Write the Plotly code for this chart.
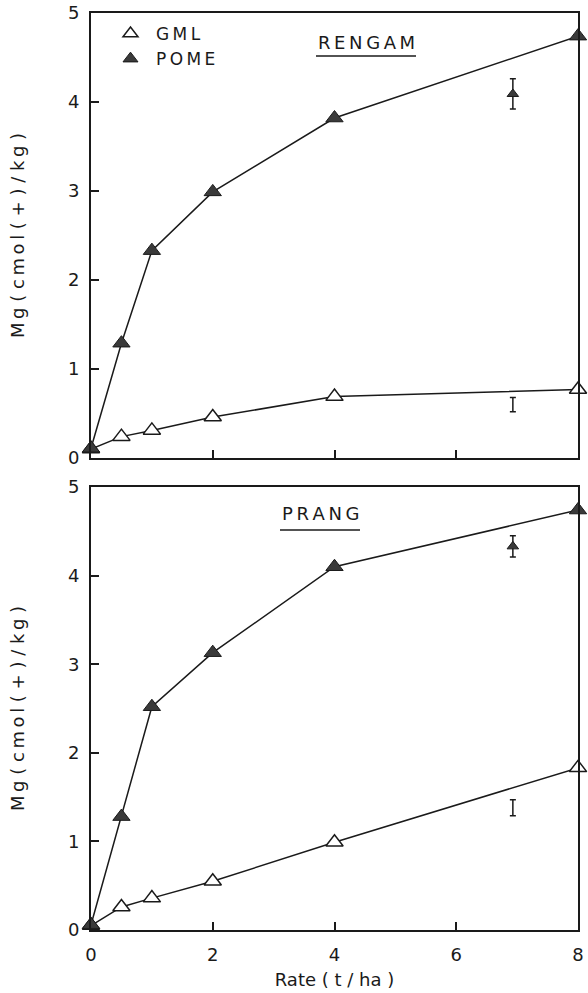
import plotly.graph_objects as go

rates = [0, 0.5, 1, 2, 4, 8]
rengam_gml = [0.10, 0.24, 0.31, 0.46, 0.69, 0.77]
rengam_pome = [0.11, 1.29, 2.33, 2.99, 3.82, 4.74]
prang_gml = [0.05, 0.26, 0.36, 0.55, 0.99, 1.83]
prang_pome = [0.06, 1.28, 2.52, 3.13, 4.10, 4.74]

# LSD error bars (x position, centre, half-width)
err_x = [6.93]
rengam_pome_err = [4.09]
rengam_pome_errh = [0.17]
rengam_gml_err = [0.60]
rengam_gml_errh = [0.08]
prang_pome_err = [4.33]
prang_pome_errh = [0.12]
prang_gml_err = [1.38]
prang_gml_errh = [0.09]

x_ticks = [0, 2, 4, 6, 8]
y_ticks = [0, 1, 2, 3, 4, 5]

FONT = "DejaVu Sans"
BLACK = "#1a1a1a"
FILL = "#3a3a3a"
TS = "\u2009"  # thin space for letter spacing

def spaced(word):
    return TS.join(word)

fig = go.Figure()

def add_panel(xa, ya, gml, pome, pe, peh, ge, geh):
    fig.add_trace(go.Scatter(x=rates, y=gml, mode="lines+markers", xaxis=xa, yaxis=ya,
                             line=dict(color=BLACK, width=1.5),
                             marker=dict(symbol="triangle-up", size=15, color="white",
                                         line=dict(color=BLACK, width=1.5)),
                             showlegend=False, cliponaxis=False))
    fig.add_trace(go.Scatter(x=rates, y=pome, mode="lines+markers", xaxis=xa, yaxis=ya,
                             line=dict(color=BLACK, width=1.5),
                             marker=dict(symbol="triangle-up", size=15, color=FILL,
                                         line=dict(color=BLACK, width=1)),
                             showlegend=False, cliponaxis=False))
    fig.add_trace(go.Scatter(x=err_x, y=pe, mode="markers", xaxis=xa, yaxis=ya,
                             marker=dict(symbol="triangle-up", size=10, color=FILL,
                                         line=dict(color=BLACK, width=1)),
                             error_y=dict(type="data", array=peh, color=BLACK,
                                          thickness=1.5, width=3),
                             showlegend=False))
    fig.add_trace(go.Scatter(x=err_x, y=ge, mode="markers", xaxis=xa, yaxis=ya,
                             marker=dict(size=1, color="rgba(0,0,0,0)"),
                             error_y=dict(type="data", array=geh, color=BLACK,
                                          thickness=1.5, width=3),
                             showlegend=False))

add_panel("x", "y", rengam_gml, rengam_pome, rengam_pome_err, rengam_pome_errh,
          rengam_gml_err, rengam_gml_errh)
add_panel("x2", "y2", prang_gml, prang_pome, prang_pome_err, prang_pome_errh,
          prang_gml_err, prang_gml_errh)

# legend entries
fig.add_trace(go.Scatter(x=[None], y=[None], mode="markers", name=spaced("GML"),
                         marker=dict(symbol="triangle-up", size=13, color="white",
                                     line=dict(color=BLACK, width=1.5))))
fig.add_trace(go.Scatter(x=[None], y=[None], mode="markers", name=spaced("POME"),
                         marker=dict(symbol="triangle-up", size=13, color=FILL,
                                     line=dict(color=BLACK, width=1))))

H = 993
top_px, bot_px = 13, 63
L = 91
PW = 487
plot_h = H - top_px - bot_px
def py(px):
    return (H - bot_px - px) / plot_h
def px_(x):
    return (x - L) / PW

axis_common = dict(showline=True, linecolor=BLACK, linewidth=2, mirror=True,
                   ticks="inside", ticklen=8, tickwidth=1.5, tickcolor=BLACK,
                   showgrid=False, zeroline=False, automargin=False,
                   tickfont=dict(family=FONT, size=18, color=BLACK))

ytitle = "M" + TS + "g ( c" + TS + "m" + TS + "o" + TS + "l ( + ) / k" + TS + "g )"

fig.update_layout(
    width=588, height=H,
    margin=dict(l=L, r=588 - L - PW, t=top_px, b=bot_px, autoexpand=False),
    paper_bgcolor="white", plot_bgcolor="white",
    font=dict(family=FONT, color=BLACK),
    xaxis=dict(domain=[0, 1], anchor="y", range=[0, 8], tickvals=x_ticks,
               showticklabels=False, **axis_common),
    yaxis=dict(domain=[py(458), 1], anchor="x", range=[0, 5], tickvals=y_ticks,
               ticklabelstandoff=6,
               title=dict(text=ytitle, font=dict(family=FONT, size=18),
                          standoff=39), **axis_common),
    xaxis2=dict(domain=[0, 1], anchor="y2", range=[0, 8], tickvals=x_ticks,
                ticklabelstandoff=7,
                title=dict(text="Rate ( t / ha )", font=dict(family=FONT, size=18),
                           standoff=10), **axis_common),
    yaxis2=dict(domain=[0, py(487)], anchor="x2", range=[0, 5], tickvals=y_ticks,
                ticklabelstandoff=6,
                title=dict(text=ytitle, font=dict(family=FONT, size=18),
                           standoff=39), **axis_common),
    legend=dict(x=px_(105), y=py(16), xanchor="left", yanchor="top",
                bgcolor="rgba(0,0,0,0)", font=dict(family=FONT, size=17),
                itemwidth=41, tracegroupgap=0),
    showlegend=True,
)

fig.add_annotation(x=px_(366), y=py(42), xref="paper", yref="paper",
                   xanchor="center", yanchor="middle",
                   text=spaced("RENGAM"), showarrow=False,
                   font=dict(family=FONT, size=18, color=BLACK))
fig.add_shape(type="line", xref="paper", yref="paper",
              x0=px_(316), x1=px_(416), y0=py(56), y1=py(56),
              line=dict(color=BLACK, width=1.5))
fig.add_annotation(x=px_(320), y=py(513), xref="paper", yref="paper",
                   xanchor="center", yanchor="middle",
                   text=spaced("PRANG"), showarrow=False,
                   font=dict(family=FONT, size=18, color=BLACK))
fig.add_shape(type="line", xref="paper", yref="paper",
              x0=px_(280), x1=px_(360), y0=py(530), y1=py(530),
              line=dict(color=BLACK, width=1.5))

fig.write_html("out.html")
